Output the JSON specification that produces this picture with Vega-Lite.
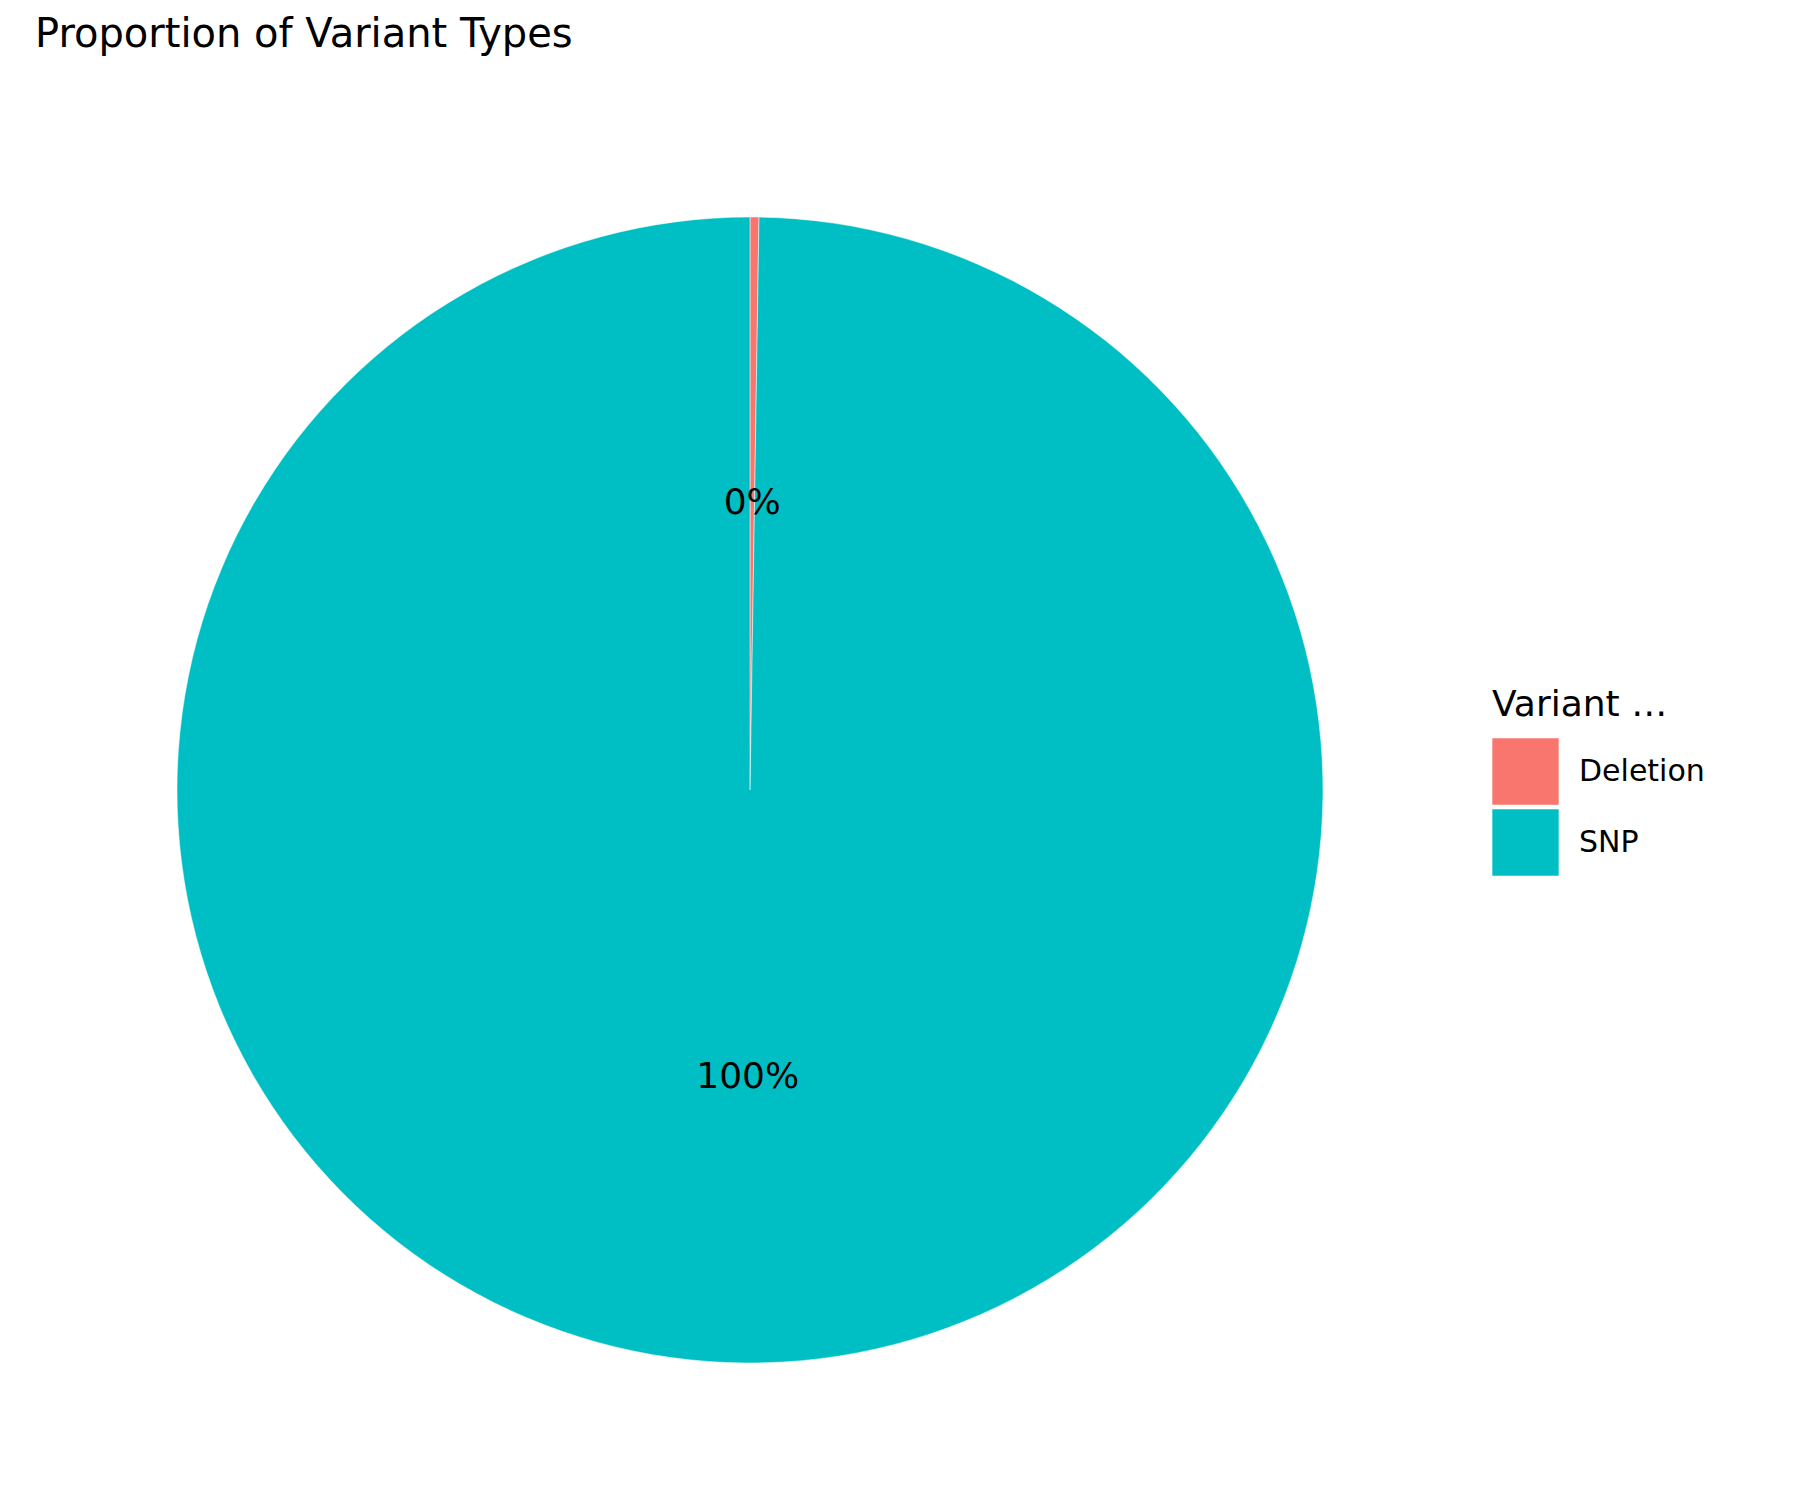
{
  "$schema": "https://vega.github.io/schema/vega-lite/v6.json",
  "autosize": {"type": "none"},
  "width": 1300,
  "height": 1300,
  "padding": {"left": 100, "top": 140, "right": 400, "bottom": 60},
  "background": "white",
  "title": {"text": "Proportion of Variant Types", "anchor": "start", "frame": "group", "fontSize": 40, "font": "DejaVu Sans", "fontWeight": "normal", "color": "black", "offset": 85, "dx": -65},
  "data": {"values": [
    {"type": "Deletion", "count": 1, "label": "0%"},
    {"type": "SNP", "count": 399, "label": "100%"}
  ]},
  "encoding": {
    "theta": {"field": "count", "type": "quantitative", "stack": true},
    "order": {"field": "type"}
  },
  "layer": [
    {
      "mark": {"type": "arc", "outerRadius": 573, "stroke": "white", "strokeWidth": 0.5},
      "encoding": {
        "color": {"field": "type", "type": "nominal", "scale": {"domain": ["Deletion", "SNP"], "range": ["#F8766D", "#00BFC4"]},
          "legend": {"title": "Variant Type", "orient": "none", "legendX": 1392, "legendY": 548, "titleFontSize": 36, "titleFont": "DejaVu Sans", "titleFontWeight": "normal", "titleColor": "black", "labelFontSize": 30, "labelFont": "DejaVu Sans", "labelColor": "black", "symbolType": "square", "symbolSize": 4400, "symbolStrokeWidth": 0, "rowPadding": 4, "labelOffset": 20, "titlePadding": 14}}
      }
    },
    {
      "mark": {"type": "text", "radius": 287, "fontSize": 36, "font": "DejaVu Sans", "color": "black"},
      "encoding": {"text": {"field": "label"}}
    }
  ]
}
